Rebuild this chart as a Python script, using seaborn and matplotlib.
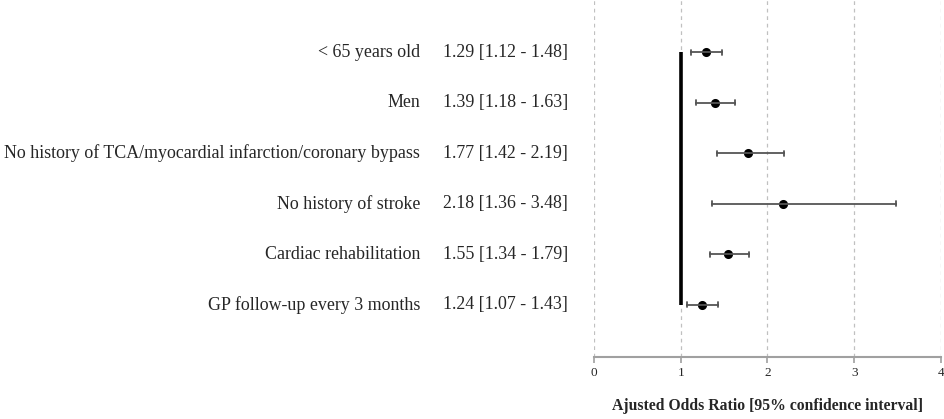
import pandas as pd
import matplotlib
matplotlib.use("Agg")
import matplotlib.pyplot as plt
import matplotlib.transforms as mtransforms
import seaborn as sns

# Data
labels = [
    "< 65 years old",
    "Men",
    "No history of TCA/myocardial infarction/coronary bypass",
    "No history of stroke",
    "Cardiac rehabilitation",
    "GP follow-up every 3 months",
]
odds = [1.29, 1.39, 1.77, 2.18, 1.55, 1.24]
ci_low = [1.12, 1.18, 1.42, 1.36, 1.34, 1.07]
ci_high = [1.48, 1.63, 2.19, 3.48, 1.79, 1.43]
ref_value = 1
x_ticks = [0, 1, 2, 3, 4]

# long format: low / estimate / high per row -> median = OR, 100% interval = CI
rows = []
for lab, lo, est, hi in zip(labels, ci_low, odds, ci_high):
    for v in (lo, est, hi):
        rows.append({"label": lab, "value": v})
df = pd.DataFrame(rows)

sns.set_style("white")
plt.rcParams["font.family"] = ["Liberation Serif", "DejaVu Serif"]

fig = plt.figure(figsize=(9.45, 4.19), dpi=100)
ax = fig.add_axes([594 / 945, 1 - 357 / 419, 347 / 945, 357 / 419])

sns.pointplot(data=df, x="value", y="label", order=labels, orient="h",
              estimator="median", errorbar=("pi", 100), linestyle="none",
              color="black", markersize=4.5, capsize=0.1,
              err_kws={"color": "#555555", "linewidth": 1.3}, ax=ax)

ax.vlines(ref_value, 0, len(labels) - 1, color="black", linewidth=2.6, zorder=1)

ax.set_xlim(0, 4)
ax.set_ylim(len(labels) - 1 + 1.03, -1.03)
ax.set_xticks(x_ticks)
ax.set_xticklabels([str(t) for t in x_ticks])
ax.set_yticks([])
ax.set_ylabel("")
ax.xaxis.grid(True, linestyle=(0, (3, 3)), color="#c0c0c0", linewidth=0.9)
ax.set_axisbelow(True)
for side in ["top", "left", "right"]:
    ax.spines[side].set_visible(False)
ax.spines["bottom"].set_color("#a0a0a0")
ax.spines["bottom"].set_linewidth(1.5)
ax.tick_params(axis="x", bottom=True, length=4, width=1.2, color="#a0a0a0",
               labelsize=9.5, pad=3)
ax.set_xlabel("Ajusted Odds Ratio [95% confidence interval]", fontsize=11.3,
              fontweight="bold", labelpad=14)

# row labels and estimate text on the left
trans = mtransforms.blended_transform_factory(fig.transFigure, ax.transData)
for i, (lab, lo, est, hi) in enumerate(zip(labels, ci_low, odds, ci_high)):
    ax.text(420 / 945, i, lab, transform=trans, ha="right", va="center",
            fontsize=12.9, clip_on=False)
    ax.text(443 / 945, i, f"{est:.2f} [{lo:.2f} - {hi:.2f}]", transform=trans,
            ha="left", va="center", fontsize=12.9, clip_on=False)

fig.savefig("out.png", dpi=100)
